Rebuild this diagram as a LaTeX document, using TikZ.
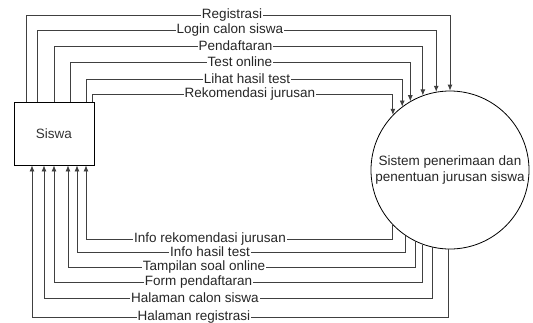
\documentclass[tikz,border=0pt]{standalone}
\usepackage{fontspec}
\setmainfont{Liberation Sans}
\usetikzlibrary{arrows.meta}
\begin{document}
\begin{tikzpicture}[x=1pt,y=-1pt,
  font=\fontsize{13.5}{16}\selectfont,
  conn/.style={draw=black!75, line width=0.8pt},
  arr/.style={conn, -{Latex[length=6pt,width=5pt]}},
  lbl/.style={fill=white, inner sep=1pt, text=black!85},
  boxnode/.style={draw, line width=0.8pt, minimum width=80pt, minimum height=63pt, inner sep=0pt, text=black!80},
  proc/.style={draw, circle, line width=0.8pt, minimum size=158pt, inner sep=0pt, align=center, text=black!85}]
\useasboundingbox (0,0) rectangle (533,322);
\node[boxnode] (siswa) at (54,133.5) {Siswa};
\node[proc] (sys) at (450,170) {Sistem penerimaan dan\\penentuan jurusan siswa};
% top connectors: Siswa -> system
\draw[arr] (siswa.north -| 26,0) |- (sys.90.7 |- 0,15) -- (sys.90.7);
\draw[arr] (siswa.north -| 37,0) |- (sys.100.2 |- 0,30) -- (sys.100.2);
\draw[arr] (siswa.north -| 54,0) |- (sys.110.8 |- 0,46) -- (sys.110.8);
\draw[arr] (siswa.north -| 70,0) |- (sys.120.4 |- 0,62) -- (sys.120.4);
\draw[arr] (siswa.north -| 86,0) |- (sys.127.4 |- 0,79) -- (sys.127.4);
\draw[arr] (siswa.north -| 92,0) |- (sys.136.2 |- 0,94) -- (sys.136.2);
% bottom connectors: system -> Siswa
\draw[arr] (sys.223.8) |- (86,239) -- (siswa.south -| 86,0);
\draw[arr] (sys.236.2) |- (77,252) -- (siswa.south -| 77,0);
\draw[arr] (sys.244.5) |- (68,267) -- (siswa.south -| 68,0);
\draw[arr] (sys.250.8) |- (54,282) -- (siswa.south -| 54,0);
\draw[arr] (sys.257.6) |- (44,298) -- (siswa.south -| 44,0);
\draw[arr] (sys.269.3) |- (32,317) -- (siswa.south -| 32,0);
% labels
\node[lbl] (l1) at (232,15) {Registrasi};
\node[lbl] (l2) at (230,30) {Login calon siswa};
\node[lbl] (l3) at (235.5,46) {Pendaftaran};
\node[lbl] (l4) at (240,62) {Test online};
\node[lbl] (l5) at (247,79) {Lihat hasil test};
\node[lbl] (l6) at (250,94) {Rekomendasi jurusan};
\node[lbl] (b1) at (210,239) {Info rekomendasi jurusan};
\node[lbl] (b2) at (210,252) {Info hasil test};
\node[lbl] (b3) at (204,267) {Tampilan soal online};
\node[lbl] (b4) at (198.5,282) {Form pendaftaran};
\node[lbl] (b5) at (195,298) {Halaman calon siswa};
\node[lbl] (b6) at (194,317) {Halaman registrasi};
\end{tikzpicture}
\end{document}
